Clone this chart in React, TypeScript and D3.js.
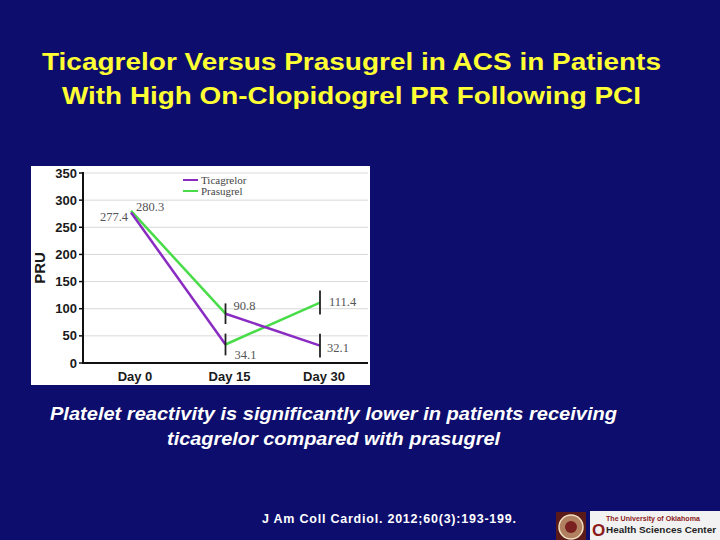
import React from "react";
import * as d3 from "d3";

const days = ["Day 0", "Day 15", "Day 30"];
const yTicks = [0, 50, 100, 150, 200, 250, 300, 350];
// Segments as drawn in the figure (crossover design)
const ticagrelorSegments = [
  { from: "Day 0", to: "Day 15", v0: 277.4, v1: 34.1 },
  { from: "Day 15", to: "Day 30", v0: 90.8, v1: 32.1 },
];
const prasugrelSegments = [
  { from: "Day 0", to: "Day 15", v0: 280.3, v1: 90.8 },
  { from: "Day 15", to: "Day 30", v0: 34.1, v1: 111.4 },
];
const errorBars = [
  { day: "Day 15", value: 90.8, err: 19 },
  { day: "Day 15", value: 34.1, err: 20 },
  { day: "Day 30", value: 111.4, err: 22 },
  { day: "Day 30", value: 32.1, err: 22 },
];
const pointLabels = [
  { day: "Day 0", value: 277.4, text: "277.4", dx: -3, dy: 4, anchor: "end" },
  { day: "Day 0", value: 280.3, text: "280.3", dx: 5, dy: -4, anchor: "start" },
  { day: "Day 15", value: 90.8, text: "90.8", dx: 8, dy: -8, anchor: "start" },
  { day: "Day 15", value: 34.1, text: "34.1", dx: 9, dy: 10, anchor: "start" },
  { day: "Day 30", value: 111.4, text: "111.4", dx: 9, dy: -1, anchor: "start" },
  { day: "Day 30", value: 32.1, text: "32.1", dx: 7, dy: 2, anchor: "start" },
];

const BG = "#0d0d6d";
const PURPLE = "#8a2bc2";
const GREEN = "#48dc48";
const SANS = "Arial, 'Liberation Sans', sans-serif";
const SERIF = "'Liberation Serif', 'Times New Roman', serif";

export default function App() {
  const x = d3.scalePoint<string>().domain(days).range([131, 320]);
  const y = d3.scaleLinear().domain([0, 350]).range([363, 173]);
  const line = d3.line<[number, number]>();

  const seg = (s: any) =>
    line([
      [x(s.from)!, y(s.v0)],
      [x(s.to)!, y(s.v1)],
    ])!;

  return (
    <svg
      width={720}
      height={540}
      style={{ position: "absolute", left: 0, top: 0, display: "block" }}
    >
      <rect x={0} y={0} width={720} height={540} fill={BG} />
      <g fontFamily={SANS} fontWeight="bold" fill="#ffff33" fontSize={23.5}>
        <text x={42} y={70} textLength={619} lengthAdjust="spacingAndGlyphs">
          Ticagrelor Versus Prasugrel in ACS in Patients
        </text>
        <text x={62} y={104} textLength={579} lengthAdjust="spacingAndGlyphs">
          With High On-Clopidogrel PR Following PCI
        </text>
      </g>

      {/* chart panel */}
      <rect x={31} y={166} width={339} height={219} fill="#ffffff" />
      {yTicks.slice(1).map((t) => (
        <line key={"g" + t} x1={83} x2={368} y1={y(t)} y2={y(t)} stroke="#d9d9d9" strokeWidth={1} />
      ))}
      <line x1={83} x2={83} y1={y(350) - 1} y2={y(0)} stroke="#111" strokeWidth={2} />
      <line x1={82} x2={368} y1={y(0)} y2={y(0)} stroke="#111" strokeWidth={2} />
      {yTicks.map((t) => (
        <g key={"t" + t}>
          <line x1={79} x2={83} y1={y(t)} y2={y(t)} stroke="#111" strokeWidth={1.5} />
          <text
            x={77}
            y={y(t)}
            dy="0.35em"
            textAnchor="end"
            fontFamily={SANS}
            fontWeight="bold"
            fontSize={13}
            fill="#1a1a1a"
          >
            {t}
          </text>
        </g>
      ))}
      <text
        transform={`translate(45,${y(175)}) rotate(-90)`}
        textAnchor="middle"
        fontFamily={SANS}
        fontWeight="bold"
        fontSize={15}
        fill="#1a1a1a"
      >
        PRU
      </text>
      {days.map((d) => (
        <text
          key={d}
          x={x(d)! + 4}
          y={381}
          textAnchor="middle"
          fontFamily={SANS}
          fontWeight="bold"
          fontSize={13}
          fill="#1a1a1a"
        >
          {d}
        </text>
      ))}

      {/* lines */}
      {prasugrelSegments.map((s, i) => (
        <path key={"p" + i} d={seg(s)} stroke={GREEN} strokeWidth={2.5} fill="none" />
      ))}
      {ticagrelorSegments.map((s, i) => (
        <path key={"tc" + i} d={seg(s)} stroke={PURPLE} strokeWidth={2.5} fill="none" />
      ))}
      {errorBars.map((e, i) => (
        <line
          key={"e" + i}
          x1={x(e.day)!}
          x2={x(e.day)!}
          y1={y(e.value + e.err)}
          y2={y(e.value - e.err)}
          stroke="#222"
          strokeWidth={1.8}
        />
      ))}
      {pointLabels.map((l, i) => (
        <text
          key={"l" + i}
          x={x(l.day)! + l.dx}
          y={y(l.value) + l.dy}
          dy="0.35em"
          textAnchor={l.anchor as any}
          fontFamily={SERIF}
          fontSize={12.5}
          fill="#555"
        >
          {l.text}
        </text>
      ))}

      {/* legend */}
      <line x1={183} x2={198} y1={180} y2={180} stroke={PURPLE} strokeWidth={2} />
      <line x1={183} x2={198} y1={191} y2={191} stroke={GREEN} strokeWidth={2} />
      <g fontFamily={SERIF} fontSize={11} fill="#444">
        <text x={201} y={180} dy="0.35em">Ticagrelor</text>
        <text x={201} y={191} dy="0.35em">Prasugrel</text>
      </g>

      {/* caption */}
      <g fontFamily={SANS} fontWeight="bold" fontStyle="italic" fill="#ffffff" fontSize={18}>
        <text x={50} y={420} textLength={567} lengthAdjust="spacingAndGlyphs">
          Platelet reactivity is significantly lower in patients receiving
        </text>
        <text x={167} y={445} textLength={333} lengthAdjust="spacingAndGlyphs">
          ticagrelor compared with prasugrel
        </text>
      </g>
      <text
        x={262}
        y={523}
        textLength={254}
        lengthAdjust="spacing"
        fontFamily={SANS}
        fontWeight="bold"
        fontSize={12.5}
        fill="#ffffff"
      >
        J Am Coll Cardiol. 2012;60(3):193-199.
      </text>

      {/* logos */}
      <rect x={556} y={512} width={30} height={28} fill="#5a1a1a" />
      <circle cx={571} cy={527} r={12} fill="#b08060" stroke="#f0e0c0" strokeWidth={1.5} />
      <circle cx={571} cy={527} r={6} fill="#7a2020" />
      <rect x={590} y={511} width={130} height={29} fill="#f2f2f2" />
      <text x={592} y={536} fontFamily={SANS} fontWeight="bold" fontSize={17} fill="#8b1a1a">O</text>
      <text x={606} y={521} textLength={94} lengthAdjust="spacingAndGlyphs" fontFamily={SANS} fontWeight="bold" fontSize={7} fill="#8b1a1a">
        The University of Oklahoma
      </text>
      <text x={606} y={533} textLength={110} lengthAdjust="spacingAndGlyphs" fontFamily={SANS} fontWeight="bold" fontSize={9.5} fill="#222">
        Health Sciences Center
      </text>
    </svg>
  );
}
